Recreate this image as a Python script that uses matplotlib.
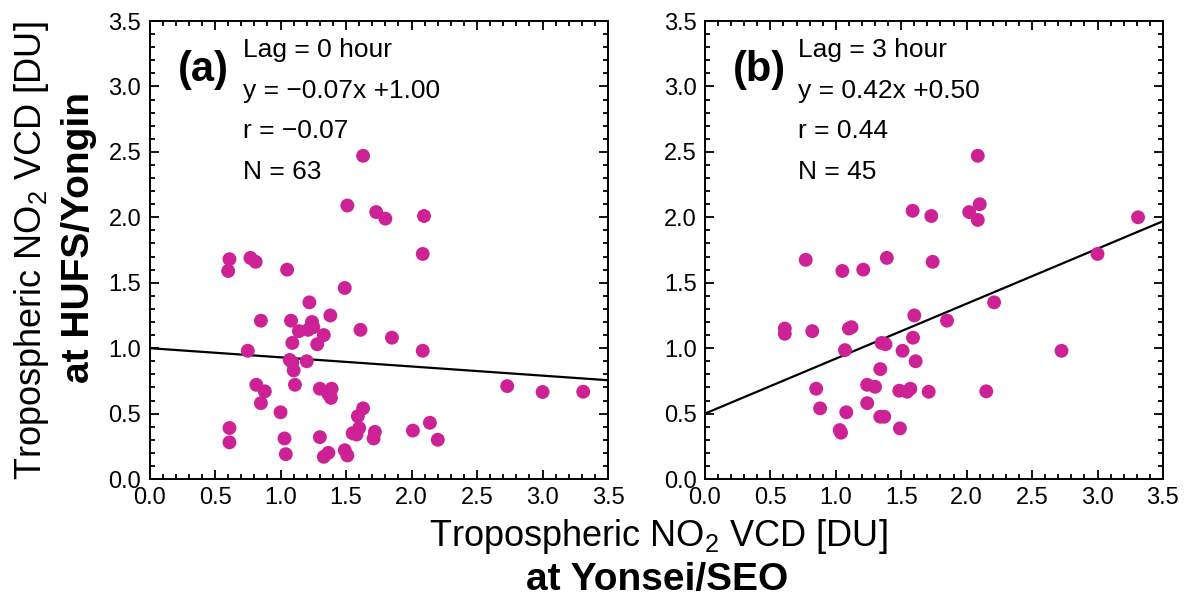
"""
Scatter of tropospheric NO2 VCD at two sites, lag 0 h and lag 3 h
"""

import matplotlib
matplotlib.use('Agg')
import matplotlib.pyplot as plt
import numpy as np
from matplotlib.ticker import MultipleLocator, FormatStrFormatter

plt.rcParams['font.family'] = ['Liberation Sans', 'DejaVu Sans']
plt.rcParams['mathtext.fontset'] = 'custom'
plt.rcParams['mathtext.rm'] = 'Liberation Sans'

# panel (a): lag 0 hour
x_lag0 = [1.63, 1.51, 1.73, 1.80, 2.095, 2.085, 0.61, 0.60, 0.77, 0.81,
          1.05, 1.49, 1.22, 1.38, 0.85, 1.08, 1.24, 1.21, 1.25, 1.14,
          1.33, 1.61, 1.85, 1.09, 1.28, 0.75, 2.085, 1.07, 1.20, 1.10,
          0.815, 0.88, 1.11, 1.30, 1.39, 1.365, 1.385, 2.73, 3.00, 3.31,
          0.85, 1.00, 1.63, 1.59, 0.61, 0.61, 1.60, 1.55, 1.58, 1.03,
          1.30, 1.04, 1.33, 1.365, 1.49, 1.51, 1.72, 1.71, 2.01, 2.14,
          2.20, 1.09, 1.24]
y_lag0 = [2.47, 2.09, 2.04, 1.99, 2.01, 1.72, 1.68, 1.59, 1.69, 1.66,
          1.60, 1.46, 1.35, 1.25, 1.21, 1.21, 1.20, 1.14, 1.16, 1.13,
          1.10, 1.14, 1.08, 1.04, 1.03, 0.98, 0.98, 0.91, 0.90, 0.83,
          0.72, 0.67, 0.72, 0.69, 0.69, 0.65, 0.62, 0.71, 0.665, 0.667,
          0.58, 0.51, 0.54, 0.48, 0.39, 0.28, 0.39, 0.35, 0.34, 0.31,
          0.32, 0.19, 0.17, 0.20, 0.22, 0.18, 0.36, 0.31, 0.37, 0.43,
          0.30, 0.89, 1.17]

# panel (b): lag 3 hour
x_lag3 = [1.587, 1.73, 0.77, 1.05, 1.21, 1.39, 1.74, 1.60, 0.61, 0.61,
          0.82, 1.10, 1.12, 1.59, 1.85, 1.35, 1.38, 1.07, 1.51, 1.61,
          1.34, 0.85, 1.24, 1.30, 1.485, 1.545, 1.57, 1.71, 0.88, 1.08,
          1.24, 1.34, 1.37, 1.49, 1.03, 1.04, 2.085, 2.02, 2.10, 2.085,
          3.31, 3.00, 2.21, 2.725, 2.15]
y_lag3 = [2.05, 2.01, 1.675, 1.59, 1.60, 1.69, 1.66, 1.25, 1.15, 1.11,
          1.13, 1.15, 1.16, 1.08, 1.21, 1.04, 1.03, 0.985, 0.98, 0.90,
          0.84, 0.69, 0.72, 0.705, 0.675, 0.667, 0.69, 0.667, 0.54, 0.51,
          0.58, 0.476, 0.476, 0.387, 0.374, 0.354, 2.47, 2.04, 2.10, 1.98,
          2.00, 1.72, 1.35, 0.98, 0.67]

panel_tags = ['(a)', '(b)']
lag_labels = ['Lag = 0 hour', 'Lag = 3 hour']
fit_labels = ['y = \u22120.07x +1.00', 'y = 0.42x +0.50']
r_labels = ['r = \u22120.07', 'r = 0.44']
n_labels = ['N = 63', 'N = 45']
slopes = [-0.07, 0.42]
intercepts = [1.00, 0.50]

dot_color = '#CD2296'

fig = plt.figure(figsize=(11.84, 5.99), dpi=100)
ax_a = fig.add_axes([0.1263, 0.2003, 0.3873, 0.7646])
ax_b = fig.add_axes([0.5954, 0.2003, 0.3868, 0.7646])

datasets = [(x_lag0, y_lag0), (x_lag3, y_lag3)]
for i, ax in enumerate([ax_a, ax_b]):
    xs, ys = datasets[i]
    ax.scatter(xs, ys, s=100, color=dot_color, edgecolors='none', zorder=3)
    # regression line over the full axis range
    xl = np.array([0.0, 3.5])
    ax.plot(xl, slopes[i] * xl + intercepts[i], color='black', lw=1.6,
            zorder=2)
    ax.set_xlim(0, 3.5)
    ax.set_ylim(0, 3.5)
    ax.xaxis.set_major_locator(MultipleLocator(0.5))
    ax.yaxis.set_major_locator(MultipleLocator(0.5))
    ax.xaxis.set_minor_locator(MultipleLocator(0.1))
    ax.yaxis.set_minor_locator(MultipleLocator(0.1))
    ax.tick_params(which='both', direction='in', top=True, right=True,
                   width=1.3, labelsize=17)
    ax.tick_params(which='major', length=6.5, pad=6)
    ax.tick_params(which='minor', length=3.5)
    for sp in ax.spines.values():
        sp.set_linewidth(1.4)
    ax.xaxis.set_major_formatter(FormatStrFormatter('%.1f'))
    ax.yaxis.set_major_formatter(FormatStrFormatter('%.1f'))

    ax.text(0.062, 0.893, panel_tags[i], transform=ax.transAxes,
            fontsize=30, fontweight='bold', va='center', ha='left')
    lines = [lag_labels[i], fit_labels[i], r_labels[i], n_labels[i]]
    for k, t in enumerate(lines):
        ax.text(0.203, 0.937 - k * 0.089, t, transform=ax.transAxes,
                fontsize=19, va='center', ha='left')

# shared axis titles
fig.text(0.027, 0.582, 'Tropospheric NO$_2$ VCD [DU]', rotation=90,
         fontsize=26, ha='center', va='center')
fig.text(0.067, 0.604, 'at HUFS/Yongin', rotation=90, fontsize=28,
         fontweight='bold', ha='center', va='center')
fig.text(0.556, 0.105, 'Tropospheric NO$_2$ VCD [DU]', fontsize=26,
         ha='center', va='center')
fig.text(0.555, 0.032, 'at Yonsei/SEO', fontsize=28, fontweight='bold',
         ha='center', va='center')

fig.savefig('out.png', dpi=100)
